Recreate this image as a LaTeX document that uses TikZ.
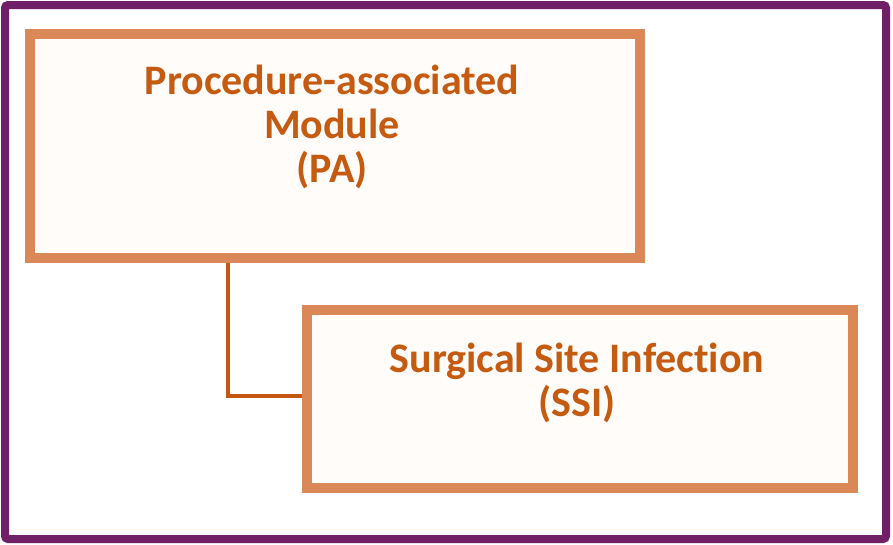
\documentclass[tikz,border=0pt]{standalone}
\usepackage{fontspec}
\setmainfont[Ligatures={NoCommon,NoRare}]{Carlito}
\definecolor{framepurple}{RGB}{112,32,102}
\definecolor{boxorange}{RGB}{219,136,88}
\definecolor{textorange}{RGB}{197,90,17}
\definecolor{linkorange}{RGB}{197,86,16}
\definecolor{boxfill}{RGB}{255,252,250}
\begin{document}
\begin{tikzpicture}[x=1pt,y=-1pt,
  modbox/.style={draw=boxorange,line width=10pt,fill=boxfill,rectangle,inner sep=0pt},
  modtext/.style={text=textorange,font=\fontsize{42}{44}\selectfont\bfseries,align=center,inner sep=0pt,anchor=north},
  link/.style={draw=linkorange,line width=3.2pt}]
\useasboundingbox (0,0) rectangle (893,544);
\draw[framepurple,line width=8pt,rounded corners=3pt] (5,5) rectangle (886,539);
\node[modbox,minimum width=610pt,minimum height=224pt] (pa) at (335,146) {};
\node[modbox,minimum width=546pt,minimum height=178pt] (ssi) at (580,399) {};
\node[modtext] (patext) at (332,65) {Procedure-associated\\Module\\(PA)};
\node[modtext] (ssitext) at (577,343) {Surgical Site Infection\\(SSI)};
\coordinate (bend) at (228,396);
\draw[link] (pa.south -| bend) -- (bend) -- (bend -| ssi.west);
\end{tikzpicture}
\end{document}
